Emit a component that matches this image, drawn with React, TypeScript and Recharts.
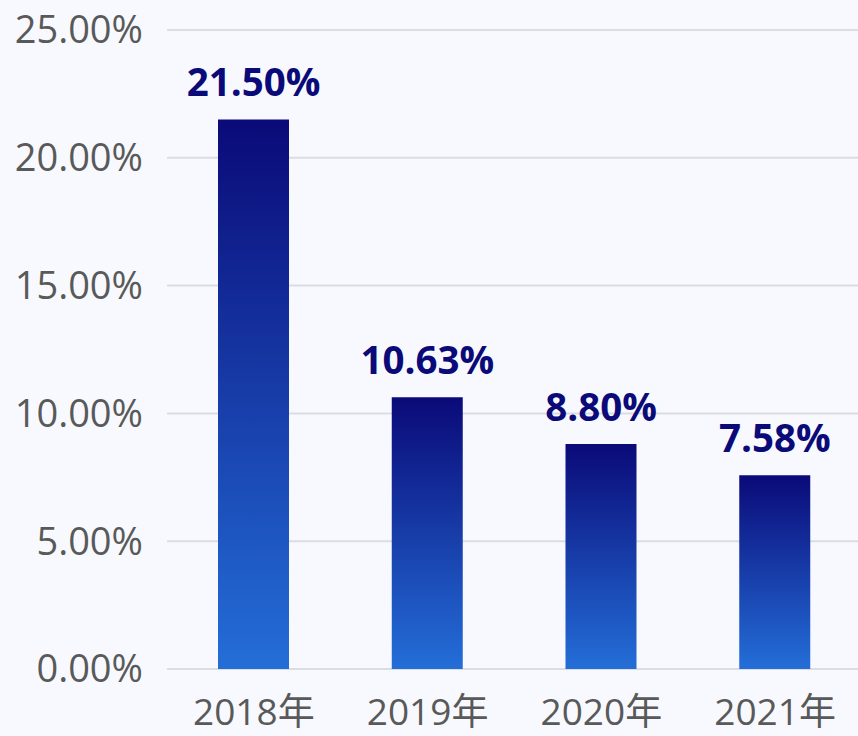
import { BarChart, Bar, XAxis, YAxis, CartesianGrid, LabelList } from "recharts";

const years = ["2018年", "2019年", "2020年", "2021年"];
const rates = [21.5, 10.63, 8.8, 7.58];
const yTicks = [0, 5, 10, 15, 20, 25];

const data = years.map((year, i) => ({ year, rate: rates[i] }));

const FONT = '"Open Sans", "Noto Sans CJK SC", sans-serif';

export default function App() {
  return (
    <div
      style={{
        position: "fixed",
        left: 0,
        top: 0,
        width: 858,
        height: 736,
        overflow: "hidden",
        background: "#f8f9fe",
        fontFamily: FONT,
      }}
    >
      <BarChart
        width={862}
        height={736}
        data={data}
        margin={{ top: 30, right: 0, left: 0, bottom: 0 }}
      >
        <defs>
          <linearGradient id="barFill" x1="0" y1="0" x2="0" y2="1">
            <stop offset="0%" stopColor="#0a0a78" />
            <stop offset="100%" stopColor="#246ed8" />
          </linearGradient>
        </defs>
        <CartesianGrid vertical={false} stroke="#dcdde2" strokeWidth={2} />
        <XAxis
          dataKey="year"
          axisLine={false}
          tickLine={false}
          tickSize={0}
          tickMargin={30}
          height={67}
          tick={{ fontSize: 37, fill: "#595959", fontFamily: FONT }}
        />
        <YAxis
          domain={[0, 25]}
          ticks={yTicks}
          width={167}
          axisLine={false}
          tickLine={false}
          tickSize={0}
          tickMargin={24}
          tickFormatter={(v: number) => `${v.toFixed(2)}%`}
          tick={{ fontSize: 38, fill: "#595959", fontFamily: FONT }}
        />
        <Bar dataKey="rate" barSize={71} fill="url(#barFill)" isAnimationActive={false}>
          <LabelList
            dataKey="rate"
            position="top"
            offset={23}
            formatter={(v: number) => `${v.toFixed(2)}%`}
            style={{ fontSize: 38.5, fontWeight: 700, fill: "#0a0a78", fontFamily: FONT }}
          />
        </Bar>
      </BarChart>
    </div>
  );
}
